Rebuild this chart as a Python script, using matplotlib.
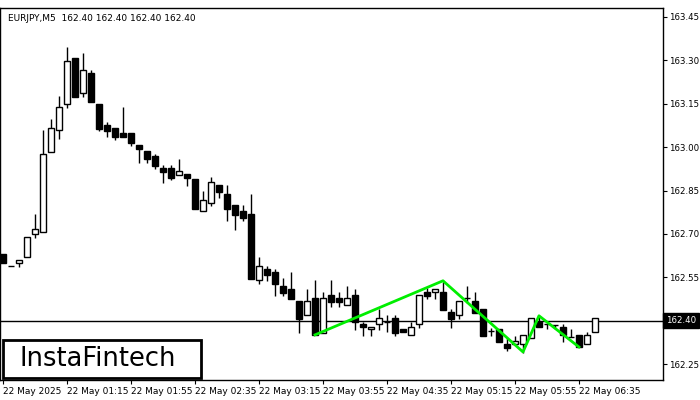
import matplotlib
matplotlib.use("Agg")
import matplotlib.pyplot as plt
import numpy as np
from matplotlib.patches import Rectangle

open_px  = [254,266,263,257,234,232,152,130,104,58,93,73,104,125,128,133,133,145,151,156,168,168,175,174,179,
            211,203,185,194,205,211,214,280,269,272,286,289,301,315,298,333,295,298,305,295,324,329,324,322,318,
            329,335,324,292,292,292,312,315,298,301,309,331,329,344,344,344,338,322,324,325,327,337,335,344,332]
close_px = [263,266,260,237,229,154,128,107,61,97,70,102,129,131,137,137,143,149,159,166,172,178,171,178,209,
            200,182,192,209,215,218,279,266,275,284,293,299,319,301,335,298,302,302,298,322,327,327,318,322,333,
            332,327,295,296,289,310,319,301,298,313,336,331,342,348,341,335,318,327,324,325,335,337,347,335,318]
high_px  = [254,266,260,237,214,130,119,96,47,58,53,70,104,122,128,107,133,145,151,154,165,165,159,174,179,
            191,177,185,185,205,205,194,257,266,269,278,272,301,289,280,292,280,292,286,289,322,327,309,315,315,
            329,322,295,288,289,282,309,301,286,292,309,328,329,338,336,335,318,316,324,325,324,329,335,332,318]
low_px   = [263,266,267,257,238,232,152,139,108,97,97,102,131,137,140,137,146,163,163,169,183,180,175,186,209,
            211,206,198,221,230,221,279,284,281,296,296,299,333,315,335,333,307,307,305,330,336,336,330,332,336,
            332,335,328,299,299,310,328,319,303,313,336,336,342,351,344,353,338,327,329,329,342,337,347,344,332]
pattern_idx = [39, 55, 65, 67, 72]
pattern_px  = [335, 281, 352, 316, 347]

def to_price(px):
    return np.round(163.45 - (np.array(px, dtype=float) - 17) * 0.15 / 43.4, 3)

opens, closes, highs, lows = map(to_price, (open_px, close_px, high_px, low_px))
pattern_price = to_price(pattern_px)
last_price = 162.40
yticks = [162.25, 162.40, 162.55, 162.70, 162.85, 163.00, 163.15, 163.30, 163.45]
xtick_idx = [0, 8, 16, 24, 32, 40, 48, 56, 64, 72]
xtick_labels = ["22 May 2025", "22 May 01:15", "22 May 01:55", "22 May 02:35", "22 May 03:15",
                "22 May 03:55", "22 May 04:35", "22 May 05:15", "22 May 05:55", "22 May 06:35"]

fig = plt.figure(figsize=(7, 4), dpi=100)
ax = fig.add_axes([0, 0.05, 663 / 700, 0.93])
ax.set_xlim(-0.375, 82.5)
ax.set_ylim(162.195, 163.481)

w = 0.75
for i in range(len(opens)):
    o, c, h, l = opens[i], closes[i], highs[i], lows[i]
    ax.vlines(i, l, h, color="black", lw=1, zorder=2)
    bot, top = min(o, c), max(o, c)
    if abs(top - bot) < 0.002:
        ax.hlines(o, i - w / 2, i + w / 2, color="black", lw=1, zorder=3)
    else:
        face = "white" if c > o else "black"
        ax.add_patch(Rectangle((i - w / 2, bot), w, top - bot, facecolor=face,
                               edgecolor="black", lw=1, zorder=3))

ax.axhline(last_price, color="black", lw=1, zorder=1)
ax.plot(pattern_idx, pattern_price, color="#00ee00", lw=2, zorder=4)

ax.yaxis.tick_right()
ax.set_yticks(yticks)
ax.set_yticklabels(["" if abs(v - last_price) < 1e-9 else f"{v:.2f}" for v in yticks], fontsize=6.2)
ax.set_xticks(xtick_idx)
ax.set_xticklabels(xtick_labels, fontsize=6.5, ha="left")
ax.tick_params(axis="y", length=3, pad=1.5)
ax.tick_params(axis="x", length=3, pad=2)
for s in ax.spines.values():
    s.set_linewidth(1)

ax.text(1.004, last_price, "162.40", transform=ax.get_yaxis_transform(),
        fontsize=6.2, color="white", va="center", ha="left",
        bbox=dict(facecolor="black", edgecolor="black", pad=2), clip_on=False, zorder=10)
ax.text(0.012, 0.985, "EURJPY,M5  162.40 162.40 162.40 162.40", transform=ax.transAxes,
        fontsize=6.5, va="top", ha="left")

fig.patches.append(Rectangle((3 / 700, 1 - 378 / 400), 198 / 700, 38 / 400, transform=fig.transFigure,
                             facecolor="white", edgecolor="black", lw=2, zorder=5))
fig.text(20 / 700, 1 - 359 / 400, "InstaFintech", fontsize=18.5, va="center", ha="left", zorder=6)

fig.savefig("out.png", dpi=100)
